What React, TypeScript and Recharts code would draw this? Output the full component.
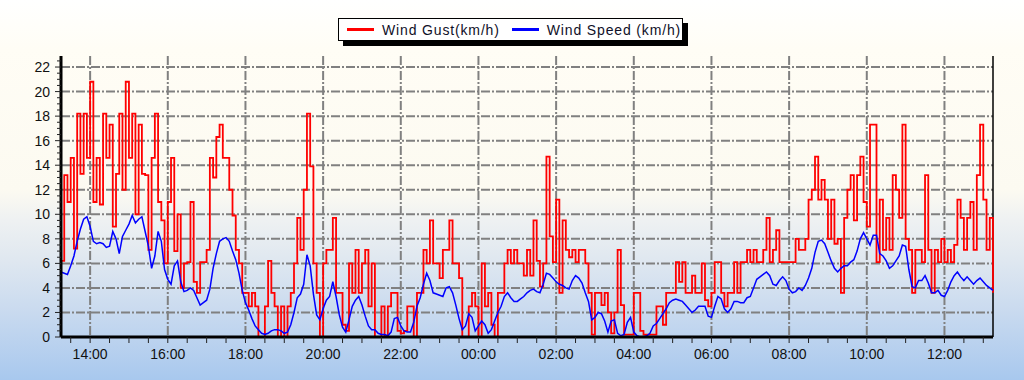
import React from 'react';
import { LineChart, Line, XAxis, YAxis, CartesianGrid, ReferenceLine } from 'recharts';

// 5-minute samples starting 13:15, 24 hours
const startMinute = 13 * 60 + 15;
const stepMinutes = 5;

const gustKmh = [
  6.2, 13.2, 11.0, 14.6, 7.2, 18.2, 13.3, 18.2, 14.6, 20.8, 11.0, 14.6,
  10.8, 18.2, 14.6, 17.3, 9.0, 13.3, 18.2, 12.0, 20.8, 14.6, 18.2, 10.0,
  17.3, 13.3, 13.2, 7.1, 14.6, 18.2, 11.0, 9.5, 6.0, 11.0, 14.6, 7.0,
  10.0, 4.0, 6.0, 6.1, 11.0, 4.5, 3.6, 6.1, 6.1, 7.1, 14.6, 13.0,
  16.3, 17.3, 14.6, 14.6, 12.0, 9.9, 7.1, 6.0, 3.6, 3.6, 2.5, 3.6,
  2.5, 0.0, 0.0, 2.5, 6.2, 3.6, 2.5, 0.0, 2.5, 0.0, 2.5, 3.6,
  6.0, 9.7, 7.1, 12.0, 18.2, 13.9, 6.0, 3.6, 0.0, 6.0, 7.1, 7.1,
  9.7, 3.6, 3.6, 1.0, 0.5, 6.0, 3.6, 7.1, 3.6, 6.0, 7.1, 2.5,
  6.0, 0.0, 0.0, 2.5, 0.0, 2.5, 3.6, 3.6, 0.5, 0.3, 0.5, 2.5,
  2.5, 0.0, 3.6, 3.6, 7.1, 6.0, 9.5, 6.0, 6.0, 4.8, 7.1, 7.1,
  9.5, 6.0, 6.0, 4.8, 0.0, 0.0, 2.5, 3.6, 2.5, 0.0, 6.0, 2.5,
  3.6, 1.0, 0.0, 3.6, 3.6, 6.0, 7.1, 6.0, 7.1, 6.0, 6.0, 5.0,
  7.1, 5.0, 9.5, 6.2, 4.1, 6.0, 14.7, 8.2, 6.1, 11.2, 3.6, 9.5,
  7.1, 6.5, 7.1, 6.1, 7.1, 7.1, 6.0, 3.6, 0.2, 3.6, 3.6, 2.6,
  3.6, 2.0, 0.3, 2.0, 7.1, 2.6, 0.2, 0.2, 0.2, 3.6, 3.6, 0.5,
  0.2, 0.2, 0.2, 0.2, 2.5, 2.5, 1.0, 3.6, 3.6, 3.6, 6.1, 4.5,
  6.1, 3.6, 3.6, 5.0, 3.6, 3.6, 6.0, 3.0, 2.5, 3.6, 6.1, 6.1,
  3.6, 2.5, 3.6, 3.6, 6.1, 3.6, 6.1, 6.1, 7.1, 6.1, 7.1, 6.1,
  6.1, 7.1, 9.7, 6.1, 7.1, 8.7, 6.1, 6.1, 6.1, 6.1, 6.1, 8.0,
  7.1, 7.1, 8.0, 11.2, 12.0, 14.7, 11.2, 12.8, 11.2, 8.0, 11.2, 7.6,
  8.0, 3.6, 9.7, 12.0, 13.2, 9.5, 13.2, 14.7, 11.0, 9.0, 17.3, 17.3,
  6.1, 11.2, 7.1, 9.7, 7.1, 13.2, 12.0, 9.7, 17.3, 8.0, 7.1, 3.6,
  7.1, 7.1, 6.1, 13.2, 7.1, 3.6, 7.1, 6.1, 8.0, 6.1, 7.1, 6.1,
  7.5, 11.2, 9.7, 7.1, 9.7, 11.0, 7.1, 13.2, 17.3, 11.2, 7.1, 9.7,
  3.6,
];

const speedKmh = [
  5.3, 5.2, 5.1, 5.8, 6.6, 7.8, 8.8, 9.6, 9.8, 9.0, 7.8, 7.6,
  7.7, 7.6, 7.3, 7.4, 8.6, 8.0, 6.8, 8.2, 8.7, 9.2, 9.9, 9.3,
  9.6, 9.8, 8.6, 7.4, 5.6, 6.6, 8.6, 7.8, 5.5, 4.7, 4.3, 5.8,
  6.2, 4.5, 3.7, 3.8, 4.0, 3.8, 3.2, 2.6, 2.8, 3.0, 3.9, 5.6,
  6.8, 7.8, 8.0, 8.1, 7.8, 7.0, 6.3, 5.2, 3.8, 2.8, 2.2, 1.5,
  0.9, 0.6, 0.3, 0.2, 0.3, 0.5, 0.6, 0.6, 0.5, 0.3, 0.4, 1.0,
  2.0, 3.2, 3.5, 4.3, 6.7, 5.8, 3.5, 1.8, 1.4, 2.3, 3.0, 3.3,
  4.5, 3.3, 1.8, 0.8, 0.4, 1.4, 2.5, 3.0, 3.3, 2.6, 1.7, 0.9,
  0.6, 0.6, 0.3, 0.2, 0.2, 0.1, 0.4, 1.5, 1.6, 0.9, 0.5, 0.4,
  0.4, 1.2, 2.5, 3.2, 4.3, 5.2, 4.6, 3.6, 3.5, 3.4, 3.3, 4.0,
  4.1, 3.6, 2.6, 1.5, 0.6, 0.9, 1.9, 1.6, 0.5, 0.9, 1.3, 1.0,
  0.3, 0.6, 1.3, 2.0, 2.5, 3.3, 3.6, 3.2, 2.9, 2.9, 3.1, 3.3,
  3.6, 3.8, 3.9, 3.7, 3.6, 4.3, 5.2, 5.1, 4.8, 4.5, 4.3, 4.2,
  4.0, 3.9, 4.6, 5.0, 4.8, 4.4, 3.6, 2.9, 1.4, 1.6, 2.0, 1.9,
  1.3, 0.4, 1.3, 1.4, 0.3, 0.1, 0.2, 1.2, 1.6, 0.4, 0.1, 0.0,
  0.0, 0.1, 0.3, 0.9, 1.1, 1.5, 1.9, 2.3, 2.8, 3.0, 3.1, 3.0,
  2.9, 2.6, 2.3, 2.0, 2.2, 2.5, 2.5, 2.5, 1.7, 1.6, 2.5, 3.3,
  3.1, 2.3, 2.0, 2.3, 2.9, 2.9, 2.8, 2.8, 3.2, 3.3, 4.0, 4.7,
  4.9, 5.1, 5.3, 5.0, 4.3, 4.2, 4.6, 4.9, 4.6, 3.9, 3.6, 3.7,
  4.0, 3.8, 4.2, 4.8, 5.6, 6.9, 7.8, 7.9, 7.6, 6.9, 6.2, 5.6,
  5.3, 5.6, 5.8, 5.8, 6.1, 6.3, 7.0, 8.0, 8.5, 8.0, 7.5, 8.3,
  8.3, 6.8, 6.6, 6.2, 5.6, 5.8, 6.2, 6.6, 7.5, 7.4, 5.5, 4.1,
  4.0, 4.6, 4.6, 5.0, 4.4, 3.6, 3.6, 3.8, 3.4, 3.3, 3.8, 4.5,
  5.0, 5.3, 4.9, 4.6, 4.9, 4.6, 4.3, 4.6, 4.8, 4.5, 4.2, 4.0,
  3.8,
];

const hourLabels = [
  '14:00', '16:00', '18:00', '20:00', '22:00', '00:00',
  '02:00', '04:00', '06:00', '08:00', '10:00', '12:00',
];

const yGridValues = [2, 4, 6, 8, 10, 12, 14, 16, 18, 20, 22];
const yMax = 22.9;

const endMinute = startMinute + (gustKmh.length - 1) * stepMinutes;

const labelToMinute = (label: string) => {
  const [h, m] = label.split(':').map(Number);
  const v = h * 60 + m;
  return v < startMinute ? v + 1440 : v;
};
const hourMinutes = hourLabels.map(labelToMinute);

const xTicks: number[] = [];
for (let m = startMinute + 15; m <= endMinute; m += 30) xTicks.push(m);
const yTicks: number[] = [];
for (let v = 0; v <= 22.5; v += 0.5) yTicks.push(v);

const rows = gustKmh.map((g, i) => ({
  t: startMinute + i * stepMinutes,
  gust: g,
  speed: speedKmh[i],
}));

const font = '"Liberation Sans", Arial, sans-serif';

function TimeTick({ x, y, payload }: any) {
  const m = payload.value as number;
  const idx = hourMinutes.indexOf(m);
  return (
    <g>
      <line x1={x} x2={x} y1={y} y2={y + 6} stroke="#222" strokeWidth={1} />
      {idx >= 0 && (
        <text x={x} y={y + 22} textAnchor="middle" fontSize={14} fontFamily={font} fill="#111">
          {hourLabels[idx]}
        </text>
      )}
    </g>
  );
}

function ValueTick({ x, y, payload }: any) {
  const v = payload.value as number;
  const major = v % 2 === 0;
  return (
    <g>
      <line x1={x - (major ? 6 : 4)} x2={x} y1={y} y2={y} stroke="#222" strokeWidth={1} />
      {major && (
        <text x={x - 11} y={y + 5} textAnchor="end" fontSize={14} fontFamily={font} fill="#111">
          {v}
        </text>
      )}
    </g>
  );
}

function LegendBox() {
  const item = (color: string, label: string, gap: number) => (
    <div style={{ display: 'flex', alignItems: 'center', marginRight: gap }}>
      <div style={{ width: 27, height: 3, background: color, marginRight: 8 }} />
      <span style={{ letterSpacing: 0.85 }}>{label}</span>
    </div>
  );
  return (
    <div
      style={{
        position: 'absolute',
        left: 338,
        top: 18,
        width: 345,
        height: 23,
        boxSizing: 'border-box',
        border: '1px solid #000',
        background: '#fff',
        boxShadow: '5px 5px 0 #000',
        display: 'flex',
        alignItems: 'center',
        paddingLeft: 8,
        fontFamily: font,
        fontSize: 14,
        color: '#101028',
        whiteSpace: 'nowrap',
        overflow: 'visible',
      }}
    >
      {item('#ff0000', 'Wind Gust(km/h)', 12)}
      {item('#0000ff', 'Wind Speed (km/h)', 0)}
    </div>
  );
}

export default function App() {
  return (
    <div
      style={{
        position: 'absolute',
        left: 0,
        top: 0,
        width: 1024,
        height: 380,
        overflow: 'hidden',
        background:
          'linear-gradient(to bottom, #ffffff 0%, #fffdf5 13%, #fcfaf1 50%, #eef1f2 58%, #e0e8f0 68%, #c9daef 82%, #a8c8ee 100%)',
      }}
    >
      <LineChart width={1024} height={380} data={rows} margin={{ top: 56, right: 31, bottom: 13, left: 0 }}>
        <CartesianGrid
          stroke="#808080"
          strokeWidth={2}
          strokeDasharray="9 2 2 2"
          horizontalValues={yGridValues}
          verticalValues={hourMinutes}
        />
        <XAxis
          dataKey="t"
          type="number"
          domain={[startMinute, endMinute]}
          ticks={xTicks}
          interval={0}
          height={30}
          tickSize={0}
          tickMargin={0}
          tickLine={false}
          axisLine={{ stroke: '#000', strokeWidth: 3 }}
          tick={<TimeTick />}
        />
        <YAxis
          type="number"
          domain={[0, yMax]}
          ticks={yTicks}
          interval={0}
          width={61}
          tickSize={0}
          tickMargin={0}
          tickLine={false}
          axisLine={{ stroke: '#000', strokeWidth: 3 }}
          tick={<ValueTick />}
          allowDataOverflow
        />
        <ReferenceLine x={endMinute} stroke="#000" strokeWidth={1.5} />
        <Line
          dataKey="gust"
          type="stepAfter"
          stroke="#ff0000"
          strokeWidth={1.8}
          dot={false}
          isAnimationActive={false}
        />
        <Line
          dataKey="speed"
          type="linear"
          stroke="#0000ff"
          strokeWidth={1.5}
          dot={false}
          isAnimationActive={false}
        />
      </LineChart>
      <LegendBox />
    </div>
  );
}
